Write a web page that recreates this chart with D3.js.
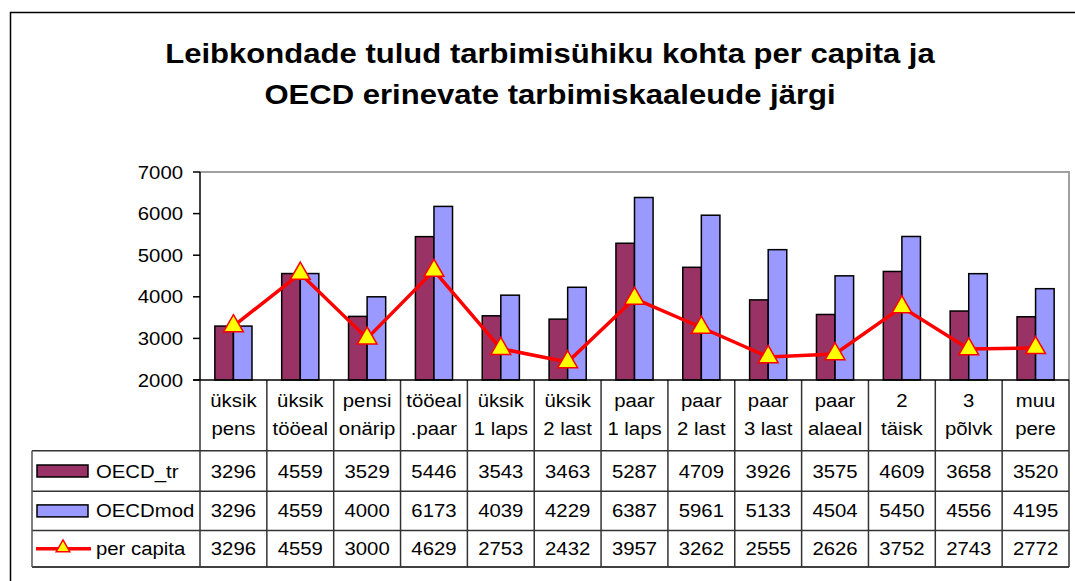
<!DOCTYPE html>
<html lang="et">
<head>
  <meta charset="UTF-8">
  <title>Leibkondade tulud</title>
  <script src="https://d3js.org/d3.v7.min.js"></script>
  <style>
    body { margin: 0; background: #fff; }
    text { font-family: "Liberation Sans", Arial, sans-serif; fill: #000; }
  </style>
</head>
<body>
  <div id="container"></div>
  <script>
    // andmed
    var categories = [
      ["üksik", "pens"], ["üksik", "tööeal"], ["pensi", "onärip"], ["tööeal", ".paar"],
      ["üksik", "1 laps"], ["üksik", "2 last"], ["paar", "1 laps"], ["paar", "2 last"],
      ["paar", "3 last"], ["paar", "alaeal"], ["2", "täisk"], ["3", "põlvk"], ["muu", "pere"]
    ];
    var oecdTr = [3296, 4559, 3529, 5446, 3543, 3463, 5287, 4709, 3926, 3575, 4609, 3658, 3520];
    var oecdMod = [3296, 4559, 4000, 6173, 4039, 4229, 6387, 5961, 5133, 4504, 5450, 4556, 4195];
    var perCapita = [3296, 4559, 3000, 4629, 2753, 2432, 3957, 3262, 2555, 2626, 3752, 2743, 2772];
    var yTicks = [2000, 3000, 4000, 5000, 6000, 7000];
    var seriesNames = ["OECD_tr", "OECDmod", "per capita"];
    var titleLines = ["Leibkondade tulud tarbimisühiku kohta per capita ja",
      "OECD erinevate tarbimiskaaleude järgi"];

    var width = 1075, height = 581,
      plot = { left: 200, right: 1069, top: 172, bottom: 380 },
      tableLeft = 32,
      rowY = [380, 450.7, 491.3, 530.5, 567],
      sx = 1.13,
      maroon = "#993366", lilac = "#9999ff", red = "#ff0000", yellow = "#ffff00";

    var svg = d3.select("#container").append("svg")
      .attr("width", width).attr("height", height);

    // raam
    svg.append("rect")
      .attr("x", 10.5).attr("y", 12.5).attr("width", 1100).attr("height", 600)
      .attr("fill", "none").attr("stroke", "#000").attr("stroke-width", 1.5);

    // venitatud tekst (Exceli pilt on laiem)
    function label(g, x, y, str, anchor, size, weight, scale) {
      return g.append("text")
        .attr("transform", "translate(" + x + "," + y + ") scale(" + (scale || sx) + ",1)")
        .attr("text-anchor", anchor)
        .attr("font-size", size)
        .attr("font-weight", weight || "normal")
        .text(str);
    }

    // pealkiri
    titleLines.forEach(function (t, i) {
      label(svg, 550, 63 + i * 41, t, "middle", 28.5, "bold", 1.09);
    });

    var x = d3.scaleBand().domain(d3.range(categories.length))
      .range([plot.left, plot.right]).padding(0);
    var xSub = d3.scaleBand().domain([0, 1]).range([0, x.bandwidth()])
      .paddingInner(0).paddingOuter(0.8);
    var y = d3.scaleLinear().domain([2000, 7000]).range([plot.bottom, plot.top]);

    // joonise ala piirjooned
    svg.append("path")
      .attr("d", "M" + plot.left + "," + y(7000) + "H" + plot.right + "V" + plot.bottom)
      .attr("fill", "none").attr("stroke", "#a0a0a0").attr("stroke-width", 2);

    // tulbad
    var bars = svg.append("g");
    [oecdTr, oecdMod].forEach(function (vals, s) {
      bars.selectAll(".s" + s)
        .data(vals)
        .enter()
        .append("rect")
        .attr("x", function (d, i) { return x(i) + xSub(s); })
        .attr("y", function (d) { return y(d); })
        .attr("width", xSub.bandwidth())
        .attr("height", function (d) { return y(2000) - y(d); })
        .attr("fill", s === 0 ? maroon : lilac)
        .attr("stroke", "#000").attr("stroke-width", 1.5);
    });

    // y-telg
    var yAxis = svg.append("g");
    yAxis.append("line")
      .attr("x1", plot.left).attr("x2", plot.left)
      .attr("y1", plot.top).attr("y2", plot.bottom)
      .attr("stroke", "#000").attr("stroke-width", 1.5);
    yTicks.forEach(function (t) {
      yAxis.append("line")
        .attr("x1", plot.left - 7).attr("x2", plot.left)
        .attr("y1", y(t)).attr("y2", y(t))
        .attr("stroke", "#000").attr("stroke-width", 1.5);
      label(yAxis, 183, y(t) + 6.5, t, "end", 18);
    });

    // per capita joon
    var line = d3.line()
      .x(function (d, i) { return x(i) + x.bandwidth() / 2; })
      .y(function (d) { return y(d); });
    svg.append("path")
      .datum(perCapita)
      .attr("d", line)
      .attr("fill", "none").attr("stroke", red).attr("stroke-width", 3.5);

    var tri = d3.symbol().type(d3.symbolTriangle).size(170);
    svg.selectAll(".marker")
      .data(perCapita)
      .enter()
      .append("path")
      .attr("class", "marker")
      .attr("d", tri)
      .attr("transform", function (d, i) {
        return "translate(" + (x(i) + x.bandwidth() / 2) + "," + y(d) + ")";
      })
      .attr("fill", yellow).attr("stroke", red).attr("stroke-width", 1.5);

    // andmetabel
    var table = svg.append("g");
    rowY.slice(1).forEach(function (ry, i) {
      table.append("line")
        .attr("x1", tableLeft).attr("x2", plot.right)
        .attr("y1", ry).attr("y2", ry)
        .attr("stroke", i === 3 ? "#000" : "#333").attr("stroke-width", 1.5);
    });
    table.append("line")
      .attr("x1", tableLeft).attr("x2", tableLeft)
      .attr("y1", rowY[1]).attr("y2", rowY[4])
      .attr("stroke", "#555").attr("stroke-width", 1.5);
    d3.range(categories.length + 1).forEach(function (i) {
      var cx = i < categories.length ? x(i) : plot.right;
      table.append("line")
        .attr("x1", cx).attr("x2", cx)
        .attr("y1", rowY[0]).attr("y2", rowY[4])
        .attr("stroke", "#333").attr("stroke-width", 1.5);
    });
    // x-telg
    table.append("line")
      .attr("x1", plot.left - 7).attr("x2", plot.right)
      .attr("y1", plot.bottom).attr("y2", plot.bottom)
      .attr("stroke", "#000").attr("stroke-width", 1.5);

    categories.forEach(function (c, i) {
      var cx = x(i) + x.bandwidth() / 2;
      label(table, cx, 406.5, c[0], "middle", 18);
      label(table, cx, 435, c[1], "middle", 18);
    });

    [oecdTr, oecdMod, perCapita].forEach(function (vals, r) {
      var by = (rowY[r + 1] + rowY[r + 2]) / 2 + 6.5;
      vals.forEach(function (v, i) {
        label(table, x(i) + x.bandwidth() / 2, by, v, "middle", 18);
      });
      label(table, 96, by, seriesNames[r], "start", 18);
      var my = by - 6.5;
      if (r < 2) {
        table.append("rect")
          .attr("x", 37).attr("y", my - 6).attr("width", 51).attr("height", 12)
          .attr("fill", r === 0 ? maroon : lilac)
          .attr("stroke", "#000").attr("stroke-width", 1.5);
      } else {
        table.append("line")
          .attr("x1", 36).attr("x2", 91).attr("y1", my).attr("y2", my)
          .attr("stroke", red).attr("stroke-width", 3.5);
        table.append("path")
          .attr("d", d3.symbol().type(d3.symbolTriangle).size(80))
          .attr("transform", "translate(63," + (my - 1) + ")")
          .attr("fill", yellow).attr("stroke", red).attr("stroke-width", 1.5);
      }
    });
  </script>
</body>
</html>
